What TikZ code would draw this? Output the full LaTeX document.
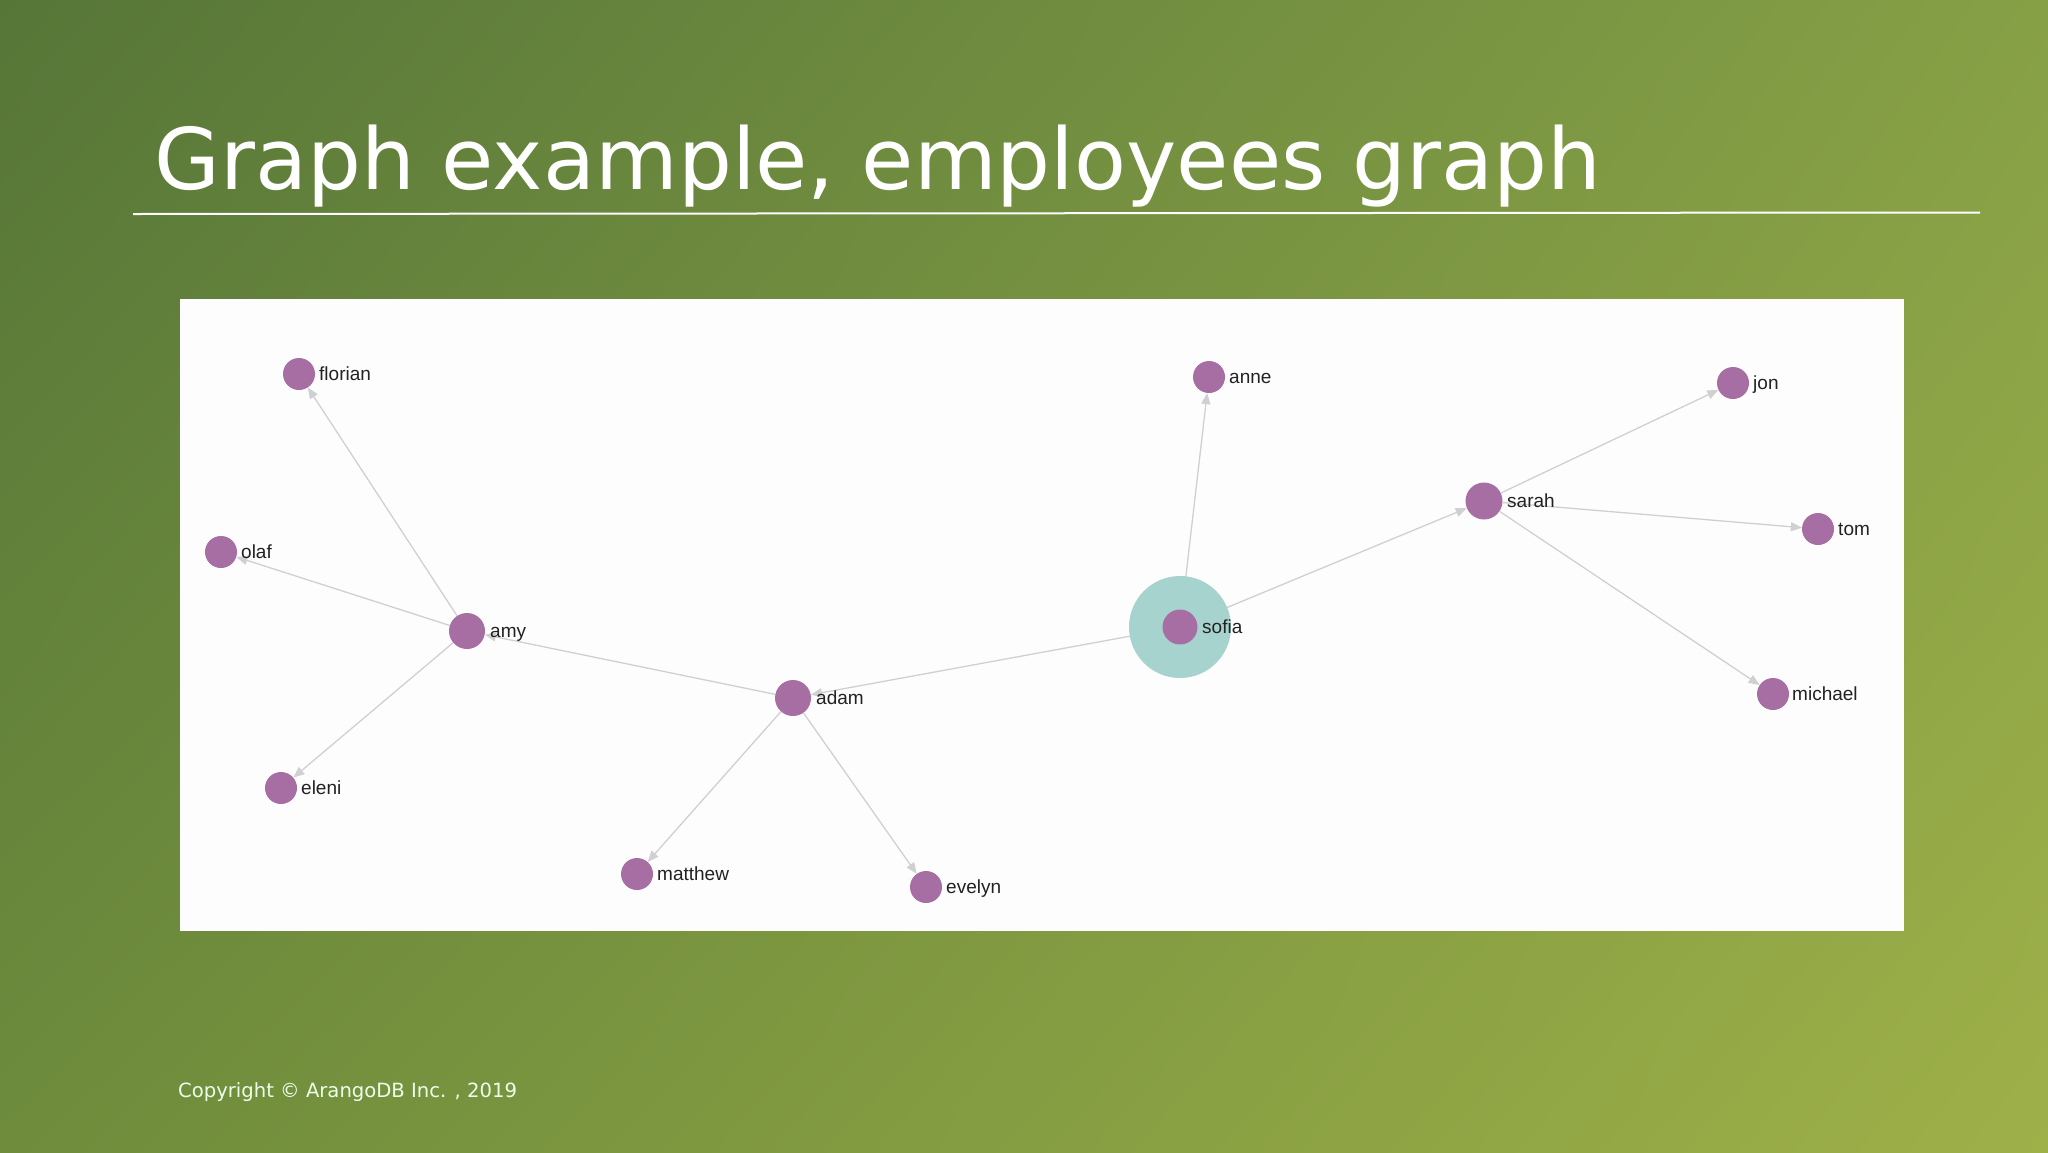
\documentclass[tikz,border=0pt]{standalone}
\usepackage{fontspec}
\setmainfont{DejaVu Sans}
\newfontfamily\labelfont{Liberation Sans}
\usetikzlibrary{arrows.meta,shadings}
\definecolor{bgTL}{RGB}{86,118,56}
\definecolor{bgTR}{RGB}{134,160,70}
\definecolor{bgBL}{RGB}{110,140,60}
\definecolor{bgBR}{RGB}{158,176,72}
\definecolor{panel}{RGB}{253,253,254}
\definecolor{vtx}{RGB}{166,110,163}
\definecolor{halo}{RGB}{167,211,206}
\definecolor{edgegray}{RGB}{208,208,210}
\definecolor{lbl}{RGB}{34,34,34}
\tikzset{
  vert/.style={circle, fill=vtx, inner sep=0pt, minimum size=32pt},
  bigvert/.style={circle, fill=vtx, inner sep=0pt, minimum size=36pt},
  vlabel/.style={anchor=base west, inner sep=0pt, text=lbl, font=\labelfont\fontsize{19}{21}\selectfont},
  link/.style={draw=edgegray, line width=1.3pt, -{Triangle[length=11pt,width=9pt]}},
}
\begin{document}
\begin{tikzpicture}[x=1pt,y=-1pt]
\useasboundingbox (0,0) rectangle (2048,1152);
\shade[upper left=bgTL, upper right=bgTR, lower left=bgBL, lower right=bgBR] (0,0) rectangle (2048,1152);
% title
\node[anchor=base west, inner sep=0pt, text=white, font=\fontsize{85}{90}\selectfont] (title) at (154,189) {Graph example, employees graph};
\draw[white, line width=2pt] (133,214) coordinate (r1) -- (1980,212.5) coordinate (r2);
% panel
\fill[panel] (180,299) rectangle (1904,931);
% nodes
\node[vert] (florian) at (299,374) {};
\node[vert] (olaf) at (221,552) {};
\node[bigvert] (amy) at (467,631) {};
\node[vert] (eleni) at (281,788) {};
\node[bigvert] (adam) at (793,698) {};
\node[vert] (matthew) at (637,874) {};
\node[vert] (evelyn) at (926,887) {};
\node[vert] (anne) at (1209,377) {};
\node[circle, inner sep=0pt, minimum size=35pt] (sofia) at (1180,627) {};
\node[bigvert, minimum size=37pt] (sarah) at (1484,501) {};
\node[vert] (jon) at (1733,383) {};
\node[vert] (tom) at (1818,529) {};
\node[vert] (michael) at (1773,694) {};
% edges
\draw[link] (amy) -- (florian);
\draw[link] (amy) -- (olaf);
\draw[link] (amy) -- (eleni);
\draw[link] (adam) -- (amy);
\draw[link] (sofia) -- (adam);
\draw[link] (adam) -- (matthew);
\draw[link] (adam) -- (evelyn);
\draw[link] (sofia) -- (anne);
\draw[link] (sofia) -- (sarah);
\draw[link] (sarah) -- (jon);
\draw[link] (sarah) -- (tom);
\draw[link] (sarah) -- (michael);
% sofia highlight
\fill[halo] (sofia.center) circle (51);
\fill[vtx] (sofia.center) circle (17.5);
% labels
\node[vlabel] (lflorian) at (319,380) {florian};
\node[vlabel] (lolaf) at (241,558) {olaf};
\node[vlabel] (lamy) at (490,637) {amy};
\node[vlabel] (leleni) at (301,794) {eleni};
\node[vlabel] (ladam) at (816,704) {adam};
\node[vlabel] (lmatthew) at (657,880) {matthew};
\node[vlabel] (levelyn) at (946,893) {evelyn};
\node[vlabel] (lanne) at (1229,383) {anne};
\node[vlabel] (lsofia) at (1202,633) {sofia};
\node[vlabel] (lsarah) at (1507,507) {sarah};
\node[vlabel] (ljon) at (1753,389) {jon};
\node[vlabel] (ltom) at (1838,535) {tom};
\node[vlabel] (lmichael) at (1792,700) {michael};
% footer
\node[anchor=base west, inner sep=0pt, text=white!92!green, font=\fontsize{19.6}{22}\selectfont] (copy) at (178,1097) {Copyright © ArangoDB Inc. , 2019};
\end{tikzpicture}
\end{document}
